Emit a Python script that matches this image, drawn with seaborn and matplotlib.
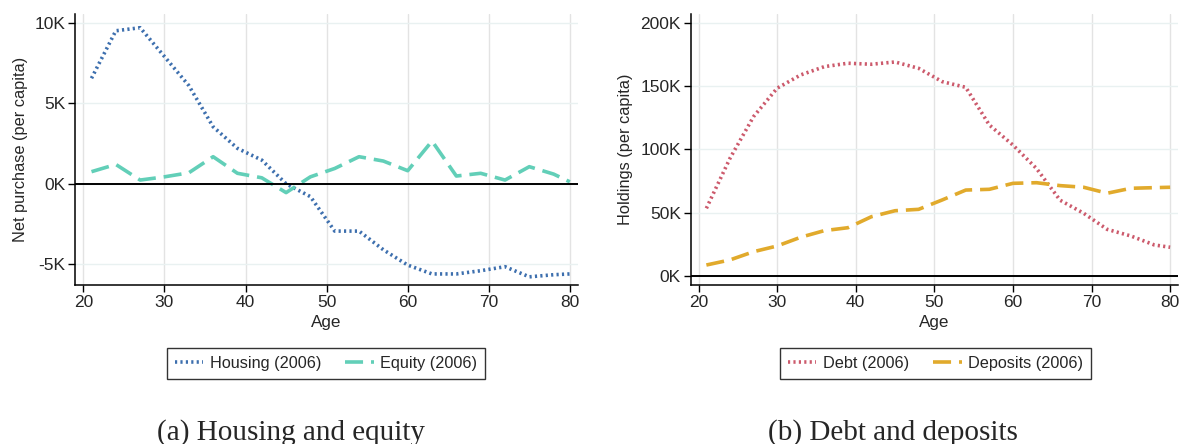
import numpy as np
import pandas as pd
import matplotlib
matplotlib.use("Agg")
import matplotlib.pyplot as plt
import seaborn as sns
from matplotlib.ticker import FuncFormatter

# Age grid shared by all series
ages = [21, 24, 27, 30, 33, 36, 39, 42, 45, 48, 51, 54, 57, 60, 63, 66, 69, 72, 75, 78, 80]

# Net purchases per capita (thousands)
housing = [6.55, 9.5, 9.69, 7.9, 6.1, 3.54, 2.2, 1.47, 0.0, -0.8, -2.94, -2.94,
           -4.1, -5.05, -5.6, -5.6, -5.4, -5.15, -5.78, -5.65, -5.6]
equity = [0.75, 1.2, 0.23, 0.43, 0.68, 1.68, 0.65, 0.37, -0.55, 0.43, 0.95, 1.68,
          1.41, 0.81, 2.65, 0.48, 0.65, 0.23, 1.06, 0.6, 0.12]

# Holdings per capita (thousands)
debt = [53.6, 93.0, 125.9, 148.3, 158.8, 165.3, 168.0, 167.2, 169.0, 164.0, 153.5,
        149.0, 119.3, 103.5, 85.0, 60.0, 49.7, 37.0, 31.8, 24.7, 22.9]
deposits = [8.9, 12.9, 19.4, 23.9, 30.8, 36.0, 38.3, 47.0, 51.7, 52.8, 60.2, 68.0,
            68.6, 73.3, 73.8, 71.5, 70.2, 65.5, 69.4, 69.9, 70.2]

left_labels = ["Housing (2006)", "Equity (2006)"]
right_labels = ["Debt (2006)", "Deposits (2006)"]
left_ticks = [-5, 0, 5, 10]
right_ticks = [0, 50, 100, 150, 200]
x_ticks = [20, 30, 40, 50, 60, 70, 80]
captions = ["(a) Housing and equity", "(b) Debt and deposits"]

C_HOUSING = "#3d6fae"
C_EQUITY = "#62cfb8"
C_DEBT = "#cc5a6c"
C_DEPOSITS = "#e1aa2c"

sns.set_theme(style="white")
plt.rcParams["font.family"] = ["Liberation Sans", "DejaVu Sans"]

fig = plt.figure(figsize=(11.8, 4.44), dpi=100)
ax1 = fig.add_axes([0.0638, 0.358, 0.426, 0.6104])
ax2 = fig.add_axes([0.5853, 0.358, 0.4130, 0.6104])

df_left = pd.DataFrame({
    "Age": ages * 2,
    "value": housing + equity,
    "series": [left_labels[0]] * len(ages) + [left_labels[1]] * len(ages),
})
df_right = pd.DataFrame({
    "Age": ages * 2,
    "value": debt + deposits,
    "series": [right_labels[0]] * len(ages) + [right_labels[1]] * len(ages),
})

dot = (0.6, 0.9)
dash = (5.0, 2.2)
LW = 2.6

sns.lineplot(data=df_left, x="Age", y="value", hue="series", style="series",
             palette=[C_HOUSING, C_EQUITY], dashes=[dot, dash], linewidth=LW,
             ax=ax1, legend=False)
sns.lineplot(data=df_right, x="Age", y="value", hue="series", style="series",
             palette=[C_DEBT, C_DEPOSITS], dashes=[dot, dash], linewidth=LW,
             ax=ax2, legend=False)

kfmt = FuncFormatter(lambda v, p: f"{int(round(v))}K")

for ax, yt, ylim, ylab in [
    (ax1, left_ticks, (-6.29, 10.54), "Net purchase (per capita)"),
    (ax2, right_ticks, (-6.9, 206.8), "Holdings (per capita)"),
]:
    ax.axhline(0, color="black", lw=1.4, zorder=3)
    ax.set_xlim(19.0, 81.0)
    ax.set_ylim(*ylim)
    ax.set_xticks(x_ticks)
    ax.set_yticks(yt)
    ax.yaxis.set_major_formatter(kfmt)
    ax.set_xlabel("Age", fontsize=12.3, labelpad=4)
    ax.set_ylabel(ylab, fontsize=11.8, labelpad=5)
    ax.tick_params(axis="both", which="major", labelsize=12.5, direction="out",
                   length=5, width=1, color="black", left=True, bottom=True, pad=2)
    for s in ["top", "right"]:
        ax.spines[s].set_visible(False)
    for s in ["left", "bottom"]:
        ax.spines[s].set_color("black")
        ax.spines[s].set_linewidth(1.1)
    ax.grid(axis="x", color="#e3e3e3", lw=1.0, zorder=0)
    ax.grid(axis="y", color="#e9f1f1", lw=1.0, zorder=0)
    ax.set_axisbelow(True)

def legend_handles(colors):
    h1 = plt.Line2D([], [], color=colors[0], lw=LW, dashes=dot)
    h2 = plt.Line2D([], [], color=colors[1], lw=LW, dashes=dash)
    return [h1, h2]

for handles, labels, xc in [
    (legend_handles([C_HOUSING, C_EQUITY]), left_labels, 326 / 1180),
    (legend_handles([C_DEBT, C_DEPOSITS]), right_labels, 935.5 / 1180),
]:
    leg = fig.legend(handles, labels, loc="center", bbox_to_anchor=(xc, 1 - 363.5 / 444),
                     ncol=2, fontsize=11.7, frameon=True, fancybox=False,
                     handlelength=1.75, handletextpad=0.4, columnspacing=1.5,
                     borderpad=0.5, edgecolor="black")
    leg.get_frame().set_linewidth(1.0)

for text, xc in zip(captions, [291 / 1180, 893 / 1180]):
    fig.text(xc, 1 - 440 / 444, text, ha="center", va="baseline",
             fontsize=21, family=["Liberation Serif"])

fig.savefig("out.png", dpi=100)
